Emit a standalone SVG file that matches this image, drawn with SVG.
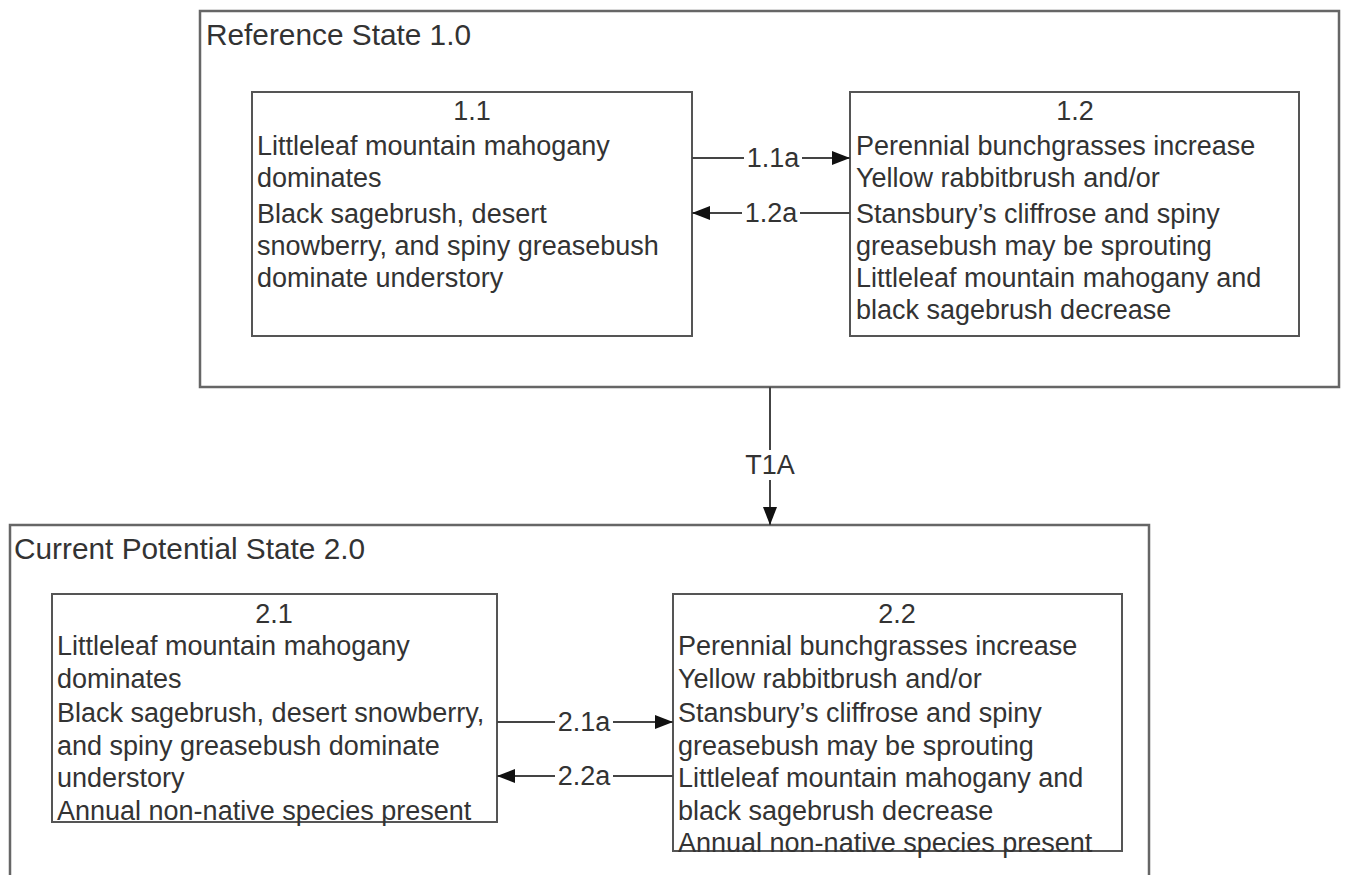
<svg xmlns="http://www.w3.org/2000/svg" width="1346" height="875" viewBox="0 0 1346 875">
<defs>
<marker id="ah" markerWidth="18" markerHeight="14" refX="18" refY="7" orient="auto" markerUnits="userSpaceOnUse">
<path d="M0,0 L18,7 L0,14 Z" fill="#111"/>
</marker>
<style>
.st{fill:#fff;stroke:#666;stroke-width:2.5}
.bx{fill:#fff;stroke:#555;stroke-width:2}
text{font-family:"Liberation Sans",Arial,sans-serif;font-size:27px;fill:#333}
.t{font-size:29.8px}
.c{text-anchor:middle}
.ln{stroke:#444;stroke-width:2;fill:none}
.lb{fill:#fff}
</style>
</defs>
<rect width="1346" height="875" fill="#fff"/>
<g id="state1">
<rect class="st" x="200" y="11" width="1139" height="376"/>
<text class="t" x="206" y="45">Reference State 1.0</text>
</g>
<g id="state2">
<rect class="st" x="10" y="525" width="1139" height="360"/>
<text class="t" x="14" y="559">Current Potential State 2.0</text>
</g>
<g id="n11">
<rect class="bx" x="252" y="92" width="440" height="244"/>
<text class="c" x="472" y="120">1.1</text>
<text x="257" y="155">Littleleaf mountain mahogany</text>
<text x="257" y="187">dominates</text>
<text x="257" y="223">Black sagebrush, desert</text>
<text x="257" y="255">snowberry, and spiny greasebush</text>
<text x="257" y="287">dominate understory</text>
</g>
<g id="n12">
<rect class="bx" x="850" y="92" width="449" height="244"/>
<text class="c" x="1075" y="120">1.2</text>
<text x="856" y="155">Perennial bunchgrasses increase</text>
<text x="856" y="187">Yellow rabbitbrush and/or</text>
<text x="856" y="223">Stansbury’s cliffrose and spiny</text>
<text x="856" y="255">greasebush may be sprouting</text>
<text x="856" y="287">Littleleaf mountain mahogany and</text>
<text x="856" y="319">black sagebrush decrease</text>
</g>
<g id="n21">
<rect class="bx" x="52" y="594" width="445" height="228"/>
<text class="c" x="274" y="623">2.1</text>
<text x="57" y="655">Littleleaf mountain mahogany</text>
<text x="57" y="688">dominates</text>
<text x="57" y="722">Black sagebrush, desert snowberry,</text>
<text x="57" y="755">and spiny greasebush dominate</text>
<text x="57" y="787">understory</text>
<text x="57" y="820">Annual non-native species present</text>
</g>
<g id="n22">
<rect class="bx" x="673" y="594" width="449" height="257"/>
<text class="c" x="897" y="623">2.2</text>
<text x="678" y="655">Perennial bunchgrasses increase</text>
<text x="678" y="688">Yellow rabbitbrush and/or</text>
<text x="678" y="722">Stansbury’s cliffrose and spiny</text>
<text x="678" y="755">greasebush may be sprouting</text>
<text x="678" y="787">Littleleaf mountain mahogany and</text>
<text x="678" y="820">black sagebrush decrease</text>
<text x="678" y="852">Annual non-native species present</text>
</g>
<g id="connectors">
<line class="ln" x1="692" y1="158" x2="850" y2="158" marker-end="url(#ah)"/>
<rect class="lb" x="744" y="144" width="58" height="28"/>
<text class="c" x="773" y="167">1.1a</text>
<line class="ln" x1="850" y1="213" x2="692" y2="213" marker-end="url(#ah)"/>
<rect class="lb" x="742" y="199" width="58" height="28"/>
<text class="c" x="771" y="222">1.2a</text>
<line class="ln" x1="770" y1="387" x2="770" y2="525" marker-end="url(#ah)"/>
<rect class="lb" x="736" y="450" width="68" height="30"/>
<text class="c" x="770" y="474">T1A</text>
<line class="ln" x1="497" y1="722" x2="673" y2="722" marker-end="url(#ah)"/>
<rect class="lb" x="555" y="708" width="58" height="28"/>
<text class="c" x="584" y="731">2.1a</text>
<line class="ln" x1="673" y1="776" x2="497" y2="776" marker-end="url(#ah)"/>
<rect class="lb" x="555" y="762" width="58" height="28"/>
<text class="c" x="584" y="785">2.2a</text>
</g>
</svg>
